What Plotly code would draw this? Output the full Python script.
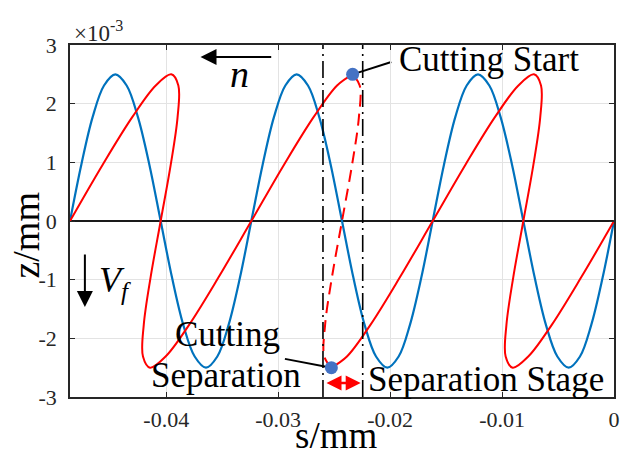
import plotly.graph_objects as go

# ---- data (s in mm, z in 1e-3 mm) ----
blue_s = [0.0, -0.00101, -0.00203, -0.00304, -0.00405, -0.00506, -0.00608, -0.00709,
          -0.0081, -0.00911, -0.01013, -0.01114, -0.01215, -0.01316, -0.01418, -0.01519,
          -0.0162, -0.01721, -0.01823, -0.01924, -0.02025, -0.02126, -0.02228, -0.02329,
          -0.0243, -0.02531, -0.02633, -0.02734, -0.02835, -0.02936, -0.03038, -0.03139,
          -0.0324, -0.03341, -0.03443, -0.03544, -0.03645, -0.03746, -0.03848, -0.03949,
          -0.0405, -0.04151, -0.04253, -0.04354, -0.04455, -0.04556, -0.04658, -0.04759,
          -0.0486]
z_vals = [0, -0.96, -1.77, -2.31, -2.5, -2.31, -1.77, -0.96,
          0, 0.96, 1.77, 2.31, 2.5, 2.31, 1.77, 0.96,
          0, -0.96, -1.77, -2.31, -2.5, -2.31, -1.77, -0.96,
          0, 0.96, 1.77, 2.31, 2.5, 2.31, 1.77, 0.96,
          0, -0.96, -1.77, -2.31, -2.5, -2.31, -1.77, -0.96,
          0, 0.96, 1.77, 2.31, 2.5, 2.31, 1.77, 0.96,
          0]
red_s = [0.0, -0.00293, -0.00556, -0.00766, -0.00905, -0.00968, -0.00961, -0.0090,
         -0.0081, -0.0072, -0.00659, -0.00652, -0.00715, -0.00854, -0.01064, -0.01327,
         -0.0162, -0.01913, -0.02176, -0.02386, -0.02525, -0.02588, -0.02581, -0.0252,
         -0.0243, -0.0234, -0.02279, -0.02272, -0.02335, -0.02474, -0.02684, -0.02948,
         -0.0324, -0.03533, -0.03796, -0.04006, -0.04145, -0.04208, -0.04201, -0.0414,
         -0.0405, -0.0396, -0.03899, -0.03892, -0.03955, -0.04094, -0.04304, -0.04568,
         -0.0486]
sep_idx = 20      # cutting separation point on red path
start_idx = 28    # cutting start point on red path
stage_bounds = [-0.0260, -0.02245]

x_ticks = [-0.04, -0.03, -0.02, -0.01, 0]
x_ticklabels = ["-0.04", "-0.03", "-0.02", "-0.01", "0"]
y_ticks = [-3, -2, -1, 0, 1, 2, 3]
y_ticklabels = ["-3", "-2", "-1", "0", "1", "2", "3"]

SERIF = "Liberation Serif"
BLUE = "#0072BD"
RED = "#FF0000"
DOT = "#4472C4"
AX = "#262626"

fig = go.Figure()
fig.add_trace(go.Scatter(x=blue_s, y=z_vals, mode="lines",
                         line=dict(color=BLUE, width=2.2, shape="spline", smoothing=1.0)))
fig.add_trace(go.Scatter(x=red_s[:sep_idx + 1], y=z_vals[:sep_idx + 1], mode="lines",
                         line=dict(color=RED, width=2, shape="spline", smoothing=1.0)))
fig.add_trace(go.Scatter(x=red_s[sep_idx:start_idx + 1], y=z_vals[sep_idx:start_idx + 1], mode="lines",
                         line=dict(color=RED, width=2, shape="spline", smoothing=1.0, dash="12px,7px")))
fig.add_trace(go.Scatter(x=red_s[start_idx:], y=z_vals[start_idx:], mode="lines",
                         line=dict(color=RED, width=2, shape="spline", smoothing=1.0)))
fig.add_trace(go.Scatter(x=[red_s[start_idx], red_s[sep_idx]], y=[z_vals[start_idx], z_vals[sep_idx]],
                         mode="markers", marker=dict(color=DOT, size=13)))

shapes = []
for b in stage_bounds:
    shapes.append(dict(type="line", xref="x", yref="paper", x0=b, x1=b, y0=0, y1=1,
                       line=dict(color="black", width=1.6, dash="17px,5px,2px,5px"), layer="above"))
# leader lines
shapes.append(dict(type="line", xref="x", yref="y", x0=-0.0199, y0=2.71,
                   x1=red_s[start_idx], y1=z_vals[start_idx], line=dict(color="black", width=2), layer="below"))
shapes.append(dict(type="line", xref="x", yref="y", x0=-0.0294, y0=-2.35,
                   x1=red_s[sep_idx], y1=z_vals[sep_idx], line=dict(color="black", width=2), layer="below"))

txt = dict(family=SERIF, size=35, color="black")
annotations = [
    dict(x=-0.0112, y=2.76, xref="x", yref="y", text="Cutting Start", showarrow=False,
         font=txt, xanchor="center", yanchor="middle"),
    dict(x=-0.03455, y=-1.93, xref="x", yref="y", text="Cutting", showarrow=False,
         font=txt, xanchor="center", yanchor="middle"),
    dict(x=-0.03464, y=-2.63, xref="x", yref="y", text="Separation", showarrow=False,
         font=txt, xanchor="center", yanchor="middle"),
    dict(x=-0.0114, y=-2.70, xref="x", yref="y", text="Separation Stage", showarrow=False,
         font=txt, xanchor="center", yanchor="middle"),
    dict(x=-0.0335, y=2.50, xref="x", yref="y", text="<i>n</i>", showarrow=False,
         font=dict(family=SERIF, size=38, color="black"), xanchor="center", yanchor="middle"),
    dict(x=-0.0462, y=-1.05, xref="x", yref="y", text="<i>V</i><sub><i>f</i></sub>", showarrow=False,
         font=dict(family=SERIF, size=36, color="black"), xanchor="left", yanchor="middle"),
    # n arrow
    dict(x=-0.03694, y=2.795, ax=-0.03049, ay=2.795, xref="x", yref="y", axref="x", ayref="y",
         text="", showarrow=True, arrowhead=2, arrowsize=1.6, arrowwidth=2, arrowcolor="black"),
    # Vf arrow
    dict(x=-0.04727, y=-1.466, ax=-0.04727, ay=-0.545, xref="x", yref="y", axref="x", ayref="y",
         text="", showarrow=True, arrowhead=2, arrowsize=1.6, arrowwidth=2, arrowcolor="black"),
    # separation stage double arrow
    dict(x=stage_bounds[1], y=-2.76, ax=stage_bounds[0], ay=-2.76, xref="x", yref="y",
         axref="x", ayref="y", text="", showarrow=True, arrowhead=2, startarrowhead=2,
         arrowside="end+start", arrowsize=1.2, startarrowsize=1.2, arrowwidth=2.5,
         arrowcolor=RED, standoff=2, startstandoff=2),
    # exponent label
    dict(x=0.003, y=1.037, xref="paper", yref="paper", text="×10<sup>-3</sup>", showarrow=False,
         font=dict(family=SERIF, size=23, color=AX), xanchor="left", yanchor="middle"),
    # axis titles
    dict(x=-0.08, y=0.46, xref="paper", yref="paper", text="z/mm", showarrow=False, textangle=-90,
         font=dict(family=SERIF, size=38, color="black"), xanchor="center", yanchor="middle"),
    dict(x=0.489, y=-0.174, xref="paper", yref="paper", text="s/mm", showarrow=False,
         font=dict(family=SERIF, size=37, color="black"), xanchor="center", yanchor="bottom"),
]

fig.update_layout(
    width=627, height=459,
    margin=dict(l=70, r=7, t=45, b=62),
    paper_bgcolor="white", plot_bgcolor="white",
    showlegend=False,
    font=dict(family=SERIF),
    shapes=shapes, annotations=annotations,
)
fig.update_xaxes(range=[-0.0486, 0], tickvals=x_ticks, ticktext=x_ticklabels,
                 showgrid=True, gridcolor="#e3e3e3", gridwidth=1, zeroline=False,
                 showline=True, linecolor=AX, linewidth=1.5, mirror="allticks",
                 ticks="inside", ticklen=5, tickcolor=AX, tickwidth=1,
                 tickfont=dict(family=SERIF, size=22, color=AX), ticklabelstandoff=2)
fig.update_yaxes(range=[-3, 3], tickvals=y_ticks, ticktext=y_ticklabels,
                 showgrid=True, gridcolor="#e3e3e3", gridwidth=1,
                 zeroline=True, zerolinecolor="#1a1a1a", zerolinewidth=2,
                 showline=True, linecolor=AX, linewidth=1.5, mirror="allticks",
                 ticks="inside", ticklen=5, tickcolor=AX, tickwidth=1,
                 tickfont=dict(family=SERIF, size=22, color=AX), ticklabelstandoff=7)

fig.write_html("out.html")
